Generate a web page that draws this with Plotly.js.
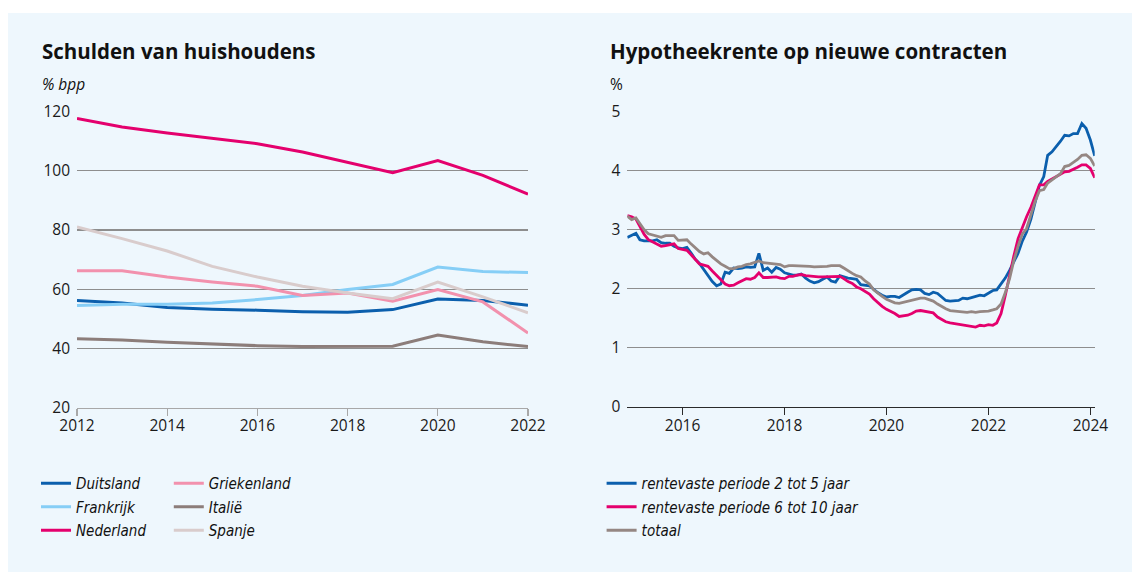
<!DOCTYPE html>
<html>
<head>
<meta charset="utf-8">
<script src="https://cdn.plot.ly/plotly-3.0.1.min.js"></script>
<style>
  html, body { margin: 0; padding: 0; background: #ffffff; width: 1132px; height: 572px; overflow: hidden; }
  #chart { position: absolute; left: 8px; top: 13px; width: 1124px; height: 559px; }
</style>
</head>
<body>
<div id="chart"></div>
<script>
// ---- Left chart: Schulden van huishoudens (% bpp) ----
const years = [2012, 2013, 2014, 2015, 2016, 2017, 2018, 2019, 2020, 2021, 2022];
const duitsland   = [56.2, 55.3, 53.8, 53.2, 52.9, 52.4, 52.2, 53.1, 56.7, 56.2, 54.6];
const frankrijk   = [54.5, 54.9, 54.9, 55.3, 56.5, 57.9, 59.9, 61.6, 67.5, 66.0, 65.6];
const nederland   = [117.7, 114.8, 112.8, 110.9, 109.2, 106.4, 103.0, 99.4, 103.5, 98.5, 92.1];
const griekenland = [66.2, 66.2, 64.1, 62.4, 61.0, 57.9, 58.7, 55.9, 59.9, 55.7, 45.2];
const italie      = [43.2, 42.8, 42.1, 41.5, 40.9, 40.6, 40.6, 40.7, 44.5, 42.2, 40.6];
const spanje      = [81.0, 77.1, 72.9, 67.7, 64.1, 61.0, 58.7, 56.8, 62.4, 57.4, 52.0];
const leftYTicks = [20, 40, 60, 80, 100, 120];
const leftXTicks = [2012, 2014, 2016, 2018, 2020, 2022];

// ---- Right chart: Hypotheekrente op nieuwe contracten (%), monthly from Dec 2014 ----
const startYear = 2014, startMonth = 12;
const rente2tot5 = [
  2.87, 2.90, 2.94, 2.83, 2.81, 2.81, 2.81, 2.83, 2.78, 2.77, 2.77, 2.72,
  2.69, 2.68, 2.70, 2.61, 2.50, 2.43, 2.33, 2.23, 2.12, 2.05, 2.08, 2.28,
  2.26, 2.35, 2.34, 2.35, 2.37, 2.36, 2.37, 2.60, 2.31, 2.35, 2.28, 2.36,
  2.33, 2.27, 2.25, 2.23, 2.23, 2.25, 2.18, 2.13, 2.10, 2.12, 2.16, 2.20,
  2.13, 2.11, 2.22, 2.20, 2.18, 2.17, 2.16, 2.07, 2.06, 2.05, 1.99, 1.93,
  1.89, 1.86, 1.87, 1.87, 1.85, 1.90, 1.94, 1.98, 1.99, 1.98, 1.92, 1.90,
  1.94, 1.92, 1.86, 1.80, 1.79, 1.79, 1.80, 1.84, 1.83, 1.85, 1.87, 1.89,
  1.88, 1.92, 1.97, 1.98, 2.08, 2.18, 2.31, 2.45, 2.60, 2.81, 2.96, 3.18,
  3.47, 3.75, 3.90, 4.26, 4.32, 4.40, 4.50, 4.60, 4.59, 4.63, 4.63, 4.80,
  4.72, 4.52, 4.25
];
const rente6tot10 = [
  3.24, 3.22, 3.18, 3.06, 2.92, 2.83, 2.79, 2.76, 2.72, 2.73, 2.74, 2.76,
  2.68, 2.67, 2.65, 2.58, 2.49, 2.42, 2.40, 2.38, 2.30, 2.22, 2.15, 2.08,
  2.05, 2.06, 2.10, 2.14, 2.17, 2.16, 2.19, 2.27, 2.19, 2.19, 2.20, 2.20,
  2.18, 2.17, 2.21, 2.21, 2.23, 2.24, 2.22, 2.21, 2.20, 2.20, 2.20, 2.20,
  2.21, 2.21, 2.21, 2.17, 2.12, 2.09, 2.03, 2.00, 1.95, 1.91, 1.83, 1.76,
  1.70, 1.65, 1.62, 1.58, 1.53, 1.54, 1.55, 1.58, 1.62, 1.63, 1.62, 1.61,
  1.59, 1.52, 1.47, 1.44, 1.42, 1.41, 1.40, 1.39, 1.38, 1.37, 1.35, 1.38,
  1.37, 1.39, 1.38, 1.42, 1.58, 1.88, 2.23, 2.55, 2.85, 3.05, 3.22, 3.38,
  3.58, 3.76, 3.76, 3.82, 3.86, 3.90, 3.95, 3.98, 3.99, 4.02, 4.06, 4.10,
  4.10, 4.04, 3.88
];
const totaal = [
  3.23, 3.17, 3.20, 3.10, 3.00, 2.93, 2.91, 2.90, 2.87, 2.90, 2.90, 2.90,
  2.82, 2.82, 2.83, 2.76, 2.69, 2.63, 2.59, 2.61, 2.54, 2.48, 2.42, 2.38,
  2.34, 2.34, 2.37, 2.38, 2.41, 2.42, 2.44, 2.47, 2.44, 2.43, 2.42, 2.42,
  2.41, 2.37, 2.39, 2.39, 2.39, 2.39, 2.38, 2.38, 2.37, 2.37, 2.37, 2.38,
  2.39, 2.39, 2.39, 2.35, 2.30, 2.26, 2.22, 2.20, 2.13, 2.08, 1.98, 1.92,
  1.87, 1.82, 1.79, 1.76, 1.75, 1.77, 1.79, 1.81, 1.83, 1.84, 1.84, 1.82,
  1.79, 1.74, 1.69, 1.66, 1.63, 1.62, 1.61, 1.61, 1.60, 1.61, 1.60, 1.61,
  1.61, 1.62, 1.64, 1.66, 1.74, 1.93, 2.17, 2.47, 2.72, 2.93, 3.02, 3.25,
  3.48, 3.66, 3.68, 3.79, 3.84, 3.89, 3.95, 4.07, 4.09, 4.14, 4.19, 4.26,
  4.27, 4.21, 4.08
];
const rightYTicks = [0, 1, 2, 3, 4, 5];

// month labels (x categories) for the right chart
const months = [];
for (let i = 0; i < totaal.length; i++) {
  const t = (startYear * 12 + (startMonth - 1)) + i;
  const y = Math.floor(t / 12), m = (t % 12) + 1;
  months.push(y + '-' + (m < 10 ? '0' + m : m) + '-01');
}

const C = {
  duitsland: '#0b5fad', frankrijk: '#86cef6', nederland: '#e4006d',
  griekenland: '#f291ad', italie: '#8c7d7a', spanje: '#d9cccc',
  r25: '#0b5fad', r610: '#e4006d', tot: '#958783'
};

function lt(name, y, color, legend) {
  return { type: 'scatter', mode: 'lines', x: years, y: y, name: name, legendgroup: name,
    line: { color: color, width: 3 }, xaxis: 'x', yaxis: 'y', legend: legend, hoverinfo: 'skip' };
}
function rt(name, y, color) {
  return { type: 'scatter', mode: 'lines', x: months, y: y, name: name, legendgroup: name,
    line: { color: color, width: 2.8 }, xaxis: 'x2', yaxis: 'y2', legend: 'legend3', hoverinfo: 'skip' };
}

const data = [
  lt('Duitsland', duitsland, C.duitsland, 'legend'),
  lt('Frankrijk', frankrijk, C.frankrijk, 'legend'),
  lt('Nederland', nederland, C.nederland, 'legend'),
  lt('Griekenland', griekenland, C.griekenland, 'legend2'),
  lt('Italië', italie, C.italie, 'legend2'),
  lt('Spanje', spanje, C.spanje, 'legend2'),
  rt('rentevaste periode 2 tot 5 jaar', rente2tot5, C.r25),
  rt('rentevaste periode 6 tot 10 jaar', rente6tot10, C.r610),
  rt('totaal', totaal, C.tot)
];

const W = 1124, H = 559, OX = 8, OY = 13;
const px = X => (X - OX) / W;
const py = Y => 1 - (Y - OY) / H;

const tickFont = { family: 'Open Sans, Noto Sans, sans-serif', size: 15.5, color: '#1a1a1a' };
const legFont = { family: 'Liberation Sans Narrow, DejaVu Sans Condensed, sans-serif', size: 15, color: '#111', style: 'italic' };
const gridC = '#8e8e8e';

function legendAt(X) {
  return { x: px(X), y: py(467), xanchor: 'left', yanchor: 'top', orientation: 'v',
    bgcolor: 'rgba(0,0,0,0)', borderwidth: 0, font: legFont, itemclick: false, itemdoubleclick: false,
    traceorder: 'grouped', tracegroupgap: 1 };
}

const layout = {
  width: W, height: H,
  margin: { l: 0, r: 0, t: 0, b: 0 },
  paper_bgcolor: '#eef7fd', plot_bgcolor: 'rgba(0,0,0,0)',
  showlegend: true,
  xaxis: {
    domain: [px(77), px(528)], range: [2012, 2022], tickvals: leftXTicks,
    showgrid: false, zeroline: false, showline: true, linecolor: '#a8a8a8', linewidth: 1.2,
    ticks: 'outside', ticklen: 7, tickcolor: '#a8a8a8', tickwidth: 1.2, ticklabelstandoff: -3,
    tickfont: tickFont, anchor: 'y', fixedrange: true
  },
  yaxis: {
    domain: [py(407.5), py(111.7)], range: [20, 120], tickvals: leftYTicks,
    showgrid: true, gridcolor: gridC, gridwidth: 1.2, zeroline: false, showline: false,
    ticks: '', ticklabelstandoff: 6, tickfont: tickFont, anchor: 'x', fixedrange: true
  },
  xaxis2: {
    type: 'date', domain: [px(627.3), px(1094.7)], range: [months[0], months[months.length - 1]],
    tick0: '2016-01-01', dtick: 'M24', tickformat: '%Y',
    showgrid: false, zeroline: false, showline: true, linecolor: '#2a2a2a', linewidth: 1.4,
    ticks: 'outside', ticklen: 7, tickcolor: '#2a2a2a', tickwidth: 1.2, ticklabelstandoff: -3,
    tickfont: tickFont, anchor: 'y2', fixedrange: true
  },
  yaxis2: {
    domain: [py(406.7), py(111.7)], range: [0, 5], tickvals: rightYTicks,
    showgrid: true, gridcolor: gridC, gridwidth: 1.2, zeroline: false, showline: false,
    ticks: '', ticklabelstandoff: 6, tickfont: tickFont, anchor: 'x2', fixedrange: true
  },
  legend: legendAt(36),
  legend2: legendAt(168.8),
  legend3: legendAt(601.6),
  annotations: [
    { text: '<b>Schulden van huishoudens</b>', xref: 'paper', yref: 'paper', x: px(40), y: py(51),
      xanchor: 'left', yanchor: 'middle', showarrow: false,
      font: { family: 'Open Sans, Noto Sans, sans-serif', size: 20.5, color: '#111' } },
    { text: '<b>Hypotheekrente op nieuwe contracten</b>', xref: 'paper', yref: 'paper', x: px(608), y: py(51),
      xanchor: 'left', yanchor: 'middle', showarrow: false,
      font: { family: 'Open Sans, Noto Sans, sans-serif', size: 20.5, color: '#111' } },
    { text: '<i>% bpp</i>', xref: 'paper', yref: 'paper', x: px(40), y: py(84),
      xanchor: 'left', yanchor: 'middle', showarrow: false,
      font: { family: 'Open Sans, Noto Sans, sans-serif', size: 15.5, color: '#111' } },
    { text: '%', xref: 'paper', yref: 'paper', x: px(608), y: py(84),
      xanchor: 'left', yanchor: 'middle', showarrow: false,
      font: { family: 'Open Sans, Noto Sans, sans-serif', size: 15.5, color: '#111' } }
  ]
};

Plotly.newPlot('chart', data, layout, { staticPlot: true, displayModeBar: false });
</script>
</body>
</html>
